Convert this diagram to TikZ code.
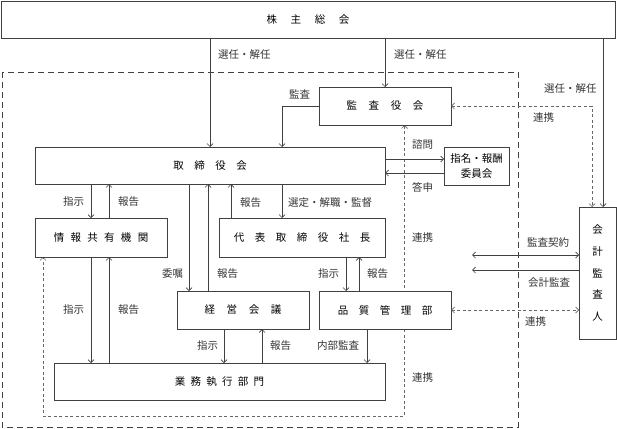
\documentclass[tikz,border=0pt]{standalone}
\usepackage{fontspec}
\setmainfont{Noto Sans CJK JP}
\usetikzlibrary{arrows.meta,backgrounds}

\tikzset{
  box/.style={draw=black!75,fill=white,line width=0.7pt,inner sep=0pt,outer sep=0pt},
  lbl/.style={anchor=west,inner sep=0pt,text=black!80},
  solidln/.style={draw=black!75,line width=0.7pt},
  dashln/.style={draw=black!60,line width=0.7pt,dash pattern=on 3pt off 2.5pt},
  ctrlframe/.style={draw=black!75,line width=0.7pt,dash pattern=on 6pt off 4pt},
}

\begin{document}
\begin{tikzpicture}[x=1pt,y=-1pt,line cap=butt,>={Straight Barb[length=3pt,width=6pt]},
  every node/.style={font=\fontsize{10.5}{12}\selectfont}]
\useasboundingbox (0,0) rectangle (617,428);
\draw[ctrlframe] (2,72) rectangle (518,427);
\node[box,minimum width=614,minimum height=37] (gms) at (308,19.5) {株\hspace{1.3em}主\hspace{1.3em}総\hspace{1.3em}会};
\node[box,minimum width=132,minimum height=38] (kansa) at (385,106) {監\hspace{1.1em}査\hspace{1.1em}役\hspace{1.1em}会};
\node[box,minimum width=350,minimum height=37] (board) at (210,165.5) {取\hspace{1em}締\hspace{1em}役\hspace{1em}会};
\node[box,minimum width=65,minimum height=38,align=center,font=\fontsize{10.5}{15}\selectfont] (nomi) at (476.5,166) {指名・報酬\\委員会};
\node[box,minimum width=132,minimum height=39] (joho) at (101,237.5) {情\hspace{0.6em}報\hspace{0.6em}共\hspace{0.6em}有\hspace{0.6em}機\hspace{0.6em}関};
\node[box,minimum width=166,minimum height=39] (ceo) at (302,237.5) {代\hspace{1em}表\hspace{1em}取\hspace{1em}締\hspace{1em}役\hspace{1em}社\hspace{1em}長};
\node[box,minimum width=132,minimum height=38] (keiei) at (243,310) {経\hspace{1.1em}営\hspace{1.1em}会\hspace{1.1em}議};
\node[box,minimum width=132,minimum height=38] (qa) at (385,310) {品\hspace{1em}質\hspace{1em}管\hspace{1em}理\hspace{1em}部};
\node[box,minimum width=331,minimum height=37] (gyomu) at (219.5,381.5) {業\hspace{0.5em}務\hspace{0.5em}執\hspace{0.5em}行\hspace{0.5em}部\hspace{0.5em}門};
\node[box,minimum width=37,minimum height=132,align=center,font=\fontsize{10.5}{21.7}\selectfont] (auditor) at (597.5,273) {会\\計\\監\\査\\人};
\coordinate (firm1) at (472,255);
\coordinate (firm2) at (472,270);
\coordinate (lp) at (43,416);
\begin{scope}[on background layer]
\draw[dashln,<->] ([xshift=19.5pt]kansa.south) |- (lp) -- (lp |- joho.south);
\end{scope}
% shareholders
\draw[solidln,->] (gms.south -| board.north) -- (board.north);
\draw[solidln,->] (gms.south -| kansa.north) -- (kansa.north);
\draw[solidln,->] ([xshift=5.5pt]auditor.north |- gms.south) -- ([xshift=5.5pt]auditor.north);
\draw[solidln,->] (kansa.west) -| ([xshift=72pt]board.north);
\draw[dashln,<->] (kansa.east) -| ([xshift=-5.5pt]auditor.north);
\draw[solidln,->] ([yshift=6.5pt]board.east) -- ([yshift=6.5pt]board.east -| nomi.west);
\draw[solidln,->] ([yshift=-7.5pt]board.east -| nomi.west) -- ([yshift=-7.5pt]board.east);
% board and below
\draw[solidln,->] ([xshift=-10pt]joho.north |- board.south) -- ([xshift=-10pt]joho.north);
\draw[solidln,->] ([xshift=8pt]joho.north) -- ([xshift=8pt]joho.north |- board.south);
\draw[solidln,->] ([xshift=-54pt]keiei.north |- board.south) -- ([xshift=-54pt]keiei.north);
\draw[solidln,->] ([xshift=-35pt]keiei.north) -- ([xshift=-35pt]keiei.north |- board.south);
\draw[solidln,->] ([xshift=-71pt]ceo.north) -- ([xshift=-71pt]ceo.north |- board.south);
\draw[solidln,->] ([xshift=-20pt]ceo.north |- board.south) -- ([xshift=-20pt]ceo.north);
\draw[solidln,->] ([xshift=-39pt]qa.north |- ceo.south) -- ([xshift=-39pt]qa.north);
\draw[solidln,->] ([xshift=-26pt]qa.north) -- ([xshift=-26pt]qa.north |- ceo.south);
\draw[solidln,->] ([xshift=-10pt]joho.south) -- ([xshift=-10pt]joho.south |- gyomu.north);
\draw[solidln,->] ([xshift=8pt]joho.south |- gyomu.north) -- ([xshift=8pt]joho.south);
\draw[solidln,->] ([xshift=-19pt]keiei.south) -- ([xshift=-19pt]keiei.south |- gyomu.north);
\draw[solidln,->] ([xshift=19pt]keiei.south |- gyomu.north) -- ([xshift=19pt]keiei.south);
\draw[solidln,->] ([xshift=-18pt]qa.south) -- ([xshift=-18pt]qa.south |- gyomu.north);
% auditor
\draw[dashln,<->] (qa.east) -- (qa.east -| auditor.west);
\draw[solidln,<->] (firm1) -- (firm1 -| auditor.west);
\draw[solidln,->] (firm2 -| auditor.west) -- (firm2);
% labels
\node[lbl] (l1) at (218,55) {選任・解任};
\node[lbl] (l2) at (394,55) {選任・解任};
\node[lbl] (l3) at (544,89) {選任・解任};
\node[lbl] (l4) at (289,94) {監査};
\node[lbl] (l5) at (533,118) {連携};
\node[lbl] (l6) at (412,145) {諮問};
\node[lbl] (l7) at (412,187) {答申};
\node[lbl] (l8) at (412,238) {連携};
\node[lbl] (l9) at (412,378) {連携};
\node[lbl] (l10) at (63,202) {指示};
\node[lbl] (l11) at (118,202) {報告};
\node[lbl] (l12) at (240,203) {報告};
\node[lbl] (l13) at (288,203) {選定・解職・監督};
\node[lbl] (l14) at (162,274) {委嘱};
\node[lbl] (l15) at (217,274) {報告};
\node[lbl] (l16) at (318,274) {指示};
\node[lbl] (l17) at (367,274) {報告};
\node[lbl] (l18) at (63,310) {指示};
\node[lbl] (l19) at (118,310) {報告};
\node[lbl] (l20) at (197,346) {指示};
\node[lbl] (l21) at (270,346) {報告};
\node[lbl] (l22) at (317,346) {内部監査};
\node[lbl] (l23) at (527,243) {監査契約};
\node[lbl] (l24) at (528,283) {会計監査};
\node[lbl] (l25) at (525,322) {連携};
\end{tikzpicture}
\end{document}
